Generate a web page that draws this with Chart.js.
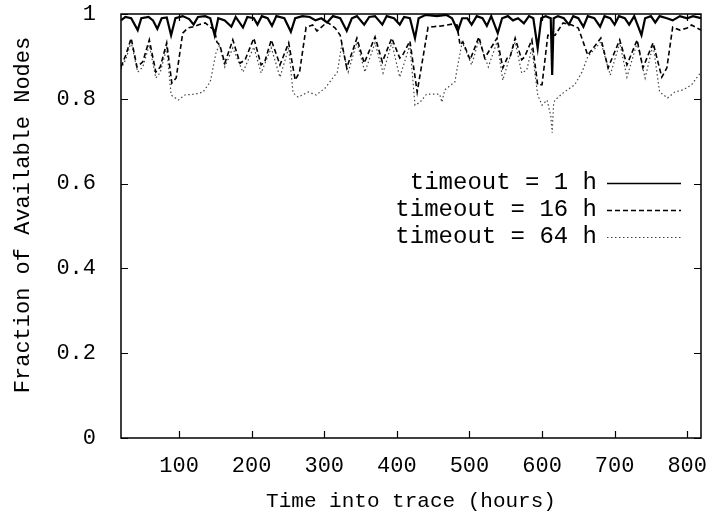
<!DOCTYPE html>
<html>
<head>
<meta charset="utf-8">
<script src="https://cdn.jsdelivr.net/npm/chart.js@4/dist/chart.umd.min.js"></script>
<style>
    html, body { margin: 0; padding: 0; background: #fff; }
    #wrap { width: 719px; height: 514px; position: relative; }
</style>
</head>
<body>
<div id="wrap"><canvas id="chart"></canvas></div>
<script>
// hours into trace / fraction of nodes available, one pair per timeout
const hours1h = [20, 26, 34, 43, 48, 58, 64, 70, 76, 83, 89, 95, 105, 114, 120, 126, 136, 143, 149, 154,
    163, 172, 178, 188, 194, 203, 208, 214, 222, 228, 234, 245, 254, 260, 270, 280, 288, 296, 304, 312,
    322, 331, 338, 345, 355, 362, 370, 380, 386, 396, 404, 410, 418, 425, 430, 440, 455, 468, 476, 484,
    490, 497, 503, 510, 518, 524, 530, 539, 545, 553, 560, 567, 575, 582, 588, 594, 599, 605, 612, 614,
    616, 622, 630, 637, 643, 650, 657, 663, 672, 680, 686, 694, 700, 706, 714, 720, 727, 737, 742, 750,
    756, 762, 772, 780, 790, 800, 808, 819];
const avail1h = [0.985, 0.993, 0.99, 0.962, 0.99, 0.993, 0.985, 0.965, 0.99, 0.992, 0.95, 0.99, 0.995, 0.988, 0.975, 0.993, 0.995, 0.99, 0.95, 0.99,
    0.985, 0.97, 0.993, 0.968, 0.993, 0.99, 0.975, 0.995, 0.99, 0.972, 0.995, 0.99, 0.958, 0.99, 0.995, 0.993, 0.985, 0.99, 0.98, 0.995,
    0.99, 0.96, 0.99, 0.995, 0.975, 0.993, 0.995, 0.975, 0.995, 0.99, 0.975, 0.993, 0.99, 0.943, 0.99, 0.998, 0.995, 0.998, 0.99, 0.96,
    0.99, 0.99, 0.975, 0.995, 0.99, 0.972, 0.995, 0.955, 0.99, 0.995, 0.985, 0.99, 0.978, 0.995, 0.99, 0.92, 0.99, 0.995, 0.99, 0.856,
    0.99, 0.995, 0.99, 0.975, 0.995, 0.99, 0.97, 0.995, 0.99, 0.97, 0.995, 0.99, 0.975, 0.995, 0.99, 0.975, 0.995, 0.95, 0.99, 0.995,
    0.98, 0.995, 0.99, 0.985, 0.995, 0.99, 0.995, 0.99];

const hours16h = [20, 27, 34, 42, 50, 59, 68, 74, 83, 90, 96, 105, 112, 120, 128, 136, 143, 149, 152, 156,
    163, 174, 184, 191, 203, 213, 218, 227, 239, 251, 260, 266, 275, 284, 290, 304, 315, 322, 331, 345,
    355, 370, 380, 393, 404, 408, 418, 428, 443, 450, 462, 476, 483, 487, 491, 501, 513, 521, 538, 546,
    552, 556, 563, 572, 576, 586, 594, 600, 608, 618, 629, 641, 650, 663, 681, 691, 707, 717, 731, 739,
    753, 765, 772, 780, 790, 800, 806, 819];
const avail16h = [0.875, 0.905, 0.943, 0.875, 0.887, 0.939, 0.863, 0.875, 0.932, 0.837, 0.849, 0.955, 0.967, 0.97, 0.975, 0.979, 0.969, 0.962, 0.934, 0.927,
    0.884, 0.939, 0.884, 0.892, 0.943, 0.88, 0.887, 0.939, 0.88, 0.932, 0.844, 0.863, 0.969, 0.974, 0.96, 0.981, 0.967, 0.95, 0.873, 0.943,
    0.884, 0.946, 0.887, 0.943, 0.896, 0.903, 0.936, 0.816, 0.969, 0.97, 0.972, 0.976, 0.974, 0.927, 0.934, 0.892, 0.946, 0.896, 0.943, 0.873,
    0.896, 0.899, 0.943, 0.892, 0.899, 0.939, 0.833, 0.833, 0.95, 0.95, 0.979, 0.974, 0.967, 0.903, 0.943, 0.873, 0.939, 0.88, 0.939, 0.873,
    0.932, 0.851, 0.873, 0.969, 0.962, 0.967, 0.974, 0.962];

const hours64h = [20, 27, 34, 43, 50, 59, 68, 74, 83, 89, 99, 108, 122, 133, 143, 151, 156, 163, 174, 188,
    203, 213, 227, 239, 251, 257, 264, 278, 289, 301, 318, 324, 333, 345, 356, 370, 381, 393, 404, 418,
    425, 432, 441, 459, 462, 466, 480, 484, 490, 503, 513, 526, 538, 546, 553, 563, 572, 579, 586, 594,
    600, 607, 612, 614, 616, 618, 629, 645, 655, 663, 681, 694, 707, 717, 731, 742, 753, 762, 773, 783,
    794, 806, 819];
const avail64h = [0.87, 0.895, 0.934, 0.863, 0.875, 0.927, 0.849, 0.862, 0.92, 0.809, 0.797, 0.809, 0.811, 0.816, 0.84, 0.91, 0.927, 0.875, 0.92, 0.863,
    0.922, 0.861, 0.92, 0.851, 0.92, 0.814, 0.804, 0.816, 0.809, 0.825, 0.863, 0.927, 0.863, 0.934, 0.863, 0.932, 0.861, 0.932, 0.851, 0.927,
    0.785, 0.792, 0.811, 0.811, 0.792, 0.821, 0.84, 0.88, 0.934, 0.88, 0.939, 0.875, 0.934, 0.844, 0.884, 0.934, 0.861, 0.868, 0.92, 0.809,
    0.785, 0.797, 0.76, 0.72, 0.79, 0.797, 0.814, 0.833, 0.863, 0.899, 0.934, 0.856, 0.932, 0.851, 0.932, 0.849, 0.927, 0.816, 0.802, 0.816,
    0.821, 0.833, 0.863];

const xTicks = [100, 200, 300, 400, 500, 600, 700, 800];
const yTicks = [0, 0.2, 0.4, 0.6, 0.8, 1];
const yTickLabels = ['0', '0.2', '0.4', '0.6', '0.8', '1'];
const yTitle = 'Fraction of Available Nodes';

const mono = '"Liberation Mono", "DejaVu Sans Mono", monospace';

const toPoints = (xs, ys) => xs.map((x, i) => ({ x, y: ys[i] }));

// gnuplot style frame with inward ticks on all four sides
const framePlugin = {
    id: 'frame',
    afterDatasetsDraw(chart) {
        const { ctx, chartArea: a, scales } = chart;
        ctx.save();
        ctx.strokeStyle = '#000';
        ctx.lineWidth = 1.5;
        ctx.strokeRect(a.left, a.top, a.right - a.left, a.bottom - a.top);
        ctx.lineWidth = 1.2;
        ctx.beginPath();
        for (const v of xTicks) {
            const x = Math.round(scales.x.getPixelForValue(v)) + 0.5;
            ctx.moveTo(x, a.bottom); ctx.lineTo(x, a.bottom - 7);
            ctx.moveTo(x, a.top); ctx.lineTo(x, a.top + 7);
        }
        for (const v of yTicks) {
            const y = Math.round(scales.y.getPixelForValue(v)) + 0.5;
            ctx.moveTo(a.left, y); ctx.lineTo(a.left + 7, y);
            ctx.moveTo(a.right, y); ctx.lineTo(a.right - 7, y);
        }
        ctx.stroke();
        ctx.restore();
    }
};

// key inside the plot (right-aligned label, line sample after it) and the y title
const keyPlugin = {
    id: 'key',
    afterDraw(chart) {
        const { ctx, chartArea: a } = chart;
        ctx.save();
        ctx.fillStyle = '#000';
        ctx.font = '22px ' + mono;
        ctx.textAlign = 'center';
        ctx.textBaseline = 'middle';
        ctx.translate(23, a.top + 201);
        ctx.rotate(-Math.PI / 2);
        ctx.fillText(yTitle, 0, 0);
        ctx.restore();

        ctx.save();
        ctx.font = '24px ' + mono;
        ctx.fillStyle = '#000';
        ctx.textAlign = 'right';
        ctx.textBaseline = 'middle';
        chart.data.datasets.forEach((ds, i) => {
            const y = a.top + 169 + i * 27;
            ctx.fillText(ds.label, a.right - 104, y);
            ctx.strokeStyle = ds.borderColor;
            ctx.lineWidth = i === 0 ? 1.6 : ds.borderWidth;
            ctx.setLineDash(ds.borderDash || []);
            ctx.beginPath();
            ctx.moveTo(a.right - 94, y + 0.5);
            ctx.lineTo(a.right - 20, y + 0.5);
            ctx.stroke();
        });
        ctx.restore();
    }
};

new Chart(document.getElementById('chart'), {
    type: 'line',
    data: {
        datasets: [
            {
                label: 'timeout = 1 h',
                data: toPoints(hours1h, avail1h),
                borderColor: '#000',
                borderWidth: 2.2
            },
            {
                label: 'timeout = 16 h',
                data: toPoints(hours16h, avail16h),
                borderColor: '#000',
                borderWidth: 1.6,
                borderDash: [5, 3]
            },
            {
                label: 'timeout = 64 h',
                data: toPoints(hours64h, avail64h),
                borderColor: '#444',
                borderWidth: 1.2,
                borderDash: [1.5, 2.5]
            }
        ]
    },
    options: {
        responsive: true,
        maintainAspectRatio: false,
        animation: false,
        devicePixelRatio: 1,
        layout: { padding: { top: 14, right: 18, left: 0, bottom: 0 } },
        elements: { point: { radius: 0 }, line: { tension: 0 } },
        plugins: { legend: { display: false }, tooltip: { enabled: false } },
        scales: {
            x: {
                type: 'linear',
                min: 20,
                max: 819,
                afterBuildTicks: s => { s.ticks = xTicks.map(v => ({ value: v })); },
                afterFit: s => { s.height = 76; s.paddingLeft = 0; s.paddingRight = 0; },
                grid: { display: false },
                border: { display: false },
                ticks: {
                    autoSkip: false,
                    maxRotation: 0,
                    padding: 7,
                    color: '#000',
                    font: { family: mono, size: 22 },
                    callback: v => String(v)
                },
                title: {
                    display: true,
                    text: 'Time into trace (hours)',
                    color: '#000',
                    font: { family: mono, size: 21 },
                    padding: { top: 4, bottom: 0 }
                }
            },
            y: {
                min: 0,
                max: 1,
                afterBuildTicks: s => { s.ticks = yTicks.map(v => ({ value: v })); },
                afterFit: s => { s.width = 121; s.paddingTop = 0; s.paddingBottom = 0; },
                grid: { display: false },
                border: { display: false },
                ticks: {
                    padding: 17,
                    color: '#000',
                    font: { family: mono, size: 22 },
                    callback: v => yTickLabels[yTicks.indexOf(v)]
                }
            }
        }
    },
    plugins: [framePlugin, keyPlugin]
});
</script>
</body>
</html>
